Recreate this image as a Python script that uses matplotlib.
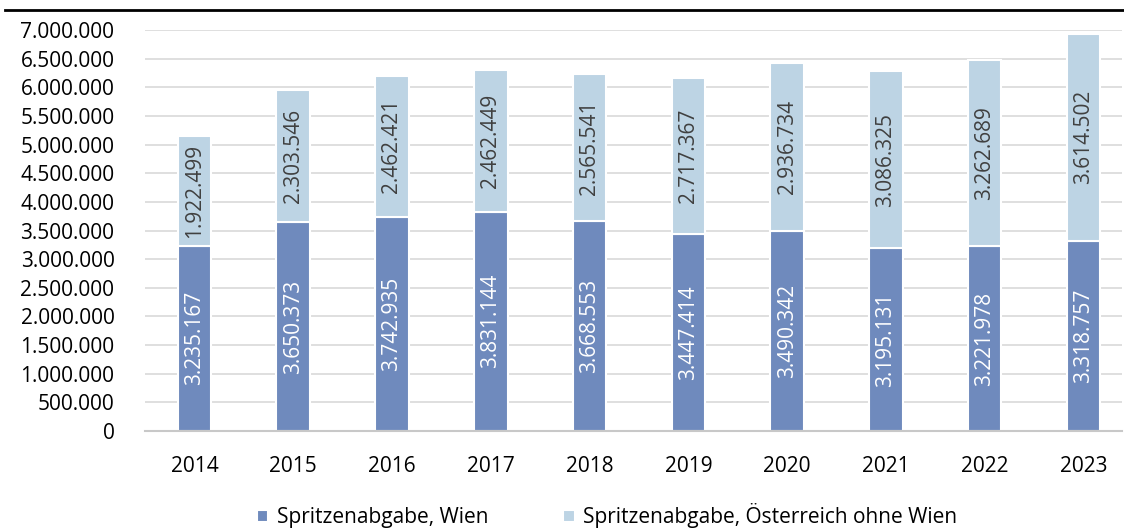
import matplotlib
matplotlib.use("Agg")
import matplotlib.pyplot as plt
from matplotlib.lines import Line2D
from matplotlib.ticker import FuncFormatter
import numpy as np

years = ["2014", "2015", "2016", "2017", "2018", "2019", "2020", "2021", "2022", "2023"]
wien = [3235167, 3650373, 3742935, 3831144, 3668553, 3447414, 3490342, 3195131, 3221978, 3318757]
rest = [1922499, 2303546, 2462421, 2462449, 2565541, 2717367, 2936734, 3086325, 3262689, 3614502]
series_names = ["Spritzenabgabe, Wien", "Spritzenabgabe, Österreich ohne Wien"]
yticks = list(range(0, 7000001, 500000))

c_dark = "#6F8ABD"
c_light = "#BDD4E4"

plt.rcParams['font.family'] = ['Open Sans', 'DejaVu Sans']

W, H = 1124, 531
fig = plt.figure(figsize=(W / 100, H / 100), dpi=100)
left, right, top, bottom = 145, 1122, 30, 431
ax = fig.add_axes([left / W, 1 - bottom / H, (right - left) / W, (bottom - top) / H])

def fmt(v):
    return f"{int(v):,}".replace(",", ".")

fs = 15
x = np.arange(len(years))
bw = 0.34
b1 = ax.bar(x, wien, width=bw, color=c_dark, edgecolor="white", linewidth=1.5, zorder=3, label=series_names[0])
b2 = ax.bar(x, rest, width=bw, bottom=wien, color=c_light, edgecolor="white", linewidth=1.5, zorder=3, label=series_names[1])

for i in range(len(years)):
    ax.text(x[i], wien[i] / 2, fmt(wien[i]), rotation=90, ha="center", va="center",
            color="white", fontsize=fs, zorder=4)
    ax.text(x[i], wien[i] + rest[i] / 2, fmt(rest[i]), rotation=90, ha="center", va="center",
            color="#404040", fontsize=fs, zorder=4)

ax.set_xlim(-0.5, 9.39)
ax.set_ylim(0, 7000000)
ax.set_yticks(yticks)
ax.yaxis.set_major_formatter(FuncFormatter(lambda v, p: fmt(v)))
ax.set_xticks(x)
ax.set_xticklabels(years)
ax.tick_params(axis="both", length=0, labelsize=fs, colors="#000000")
ax.tick_params(axis="y", pad=22)
ax.tick_params(axis="x", pad=18)
ax.grid(axis="y", color="#D9D9D9", linewidth=1.2, zorder=0)
for s in ["top", "right", "left"]:
    ax.spines[s].set_visible(False)
ax.spines["bottom"].set_color("#C8C8C8")
ax.spines["bottom"].set_linewidth(1.5)
ax.spines["bottom"].set_zorder(5)

leg = fig.legend(handles=[b1, b2], labels=series_names, loc="center", bbox_to_anchor=(607 / W, 1 - 516 / H),
                 ncol=2, frameon=False, fontsize=fs, handlelength=0.55, handleheight=0.55,
                 columnspacing=3.6, handletextpad=0.4)

fig.add_artist(Line2D([5 / W, 1], [1 - 10 / H, 1 - 10 / H], color="black", linewidth=2, transform=fig.transFigure))

fig.savefig("out.png", dpi=100)
